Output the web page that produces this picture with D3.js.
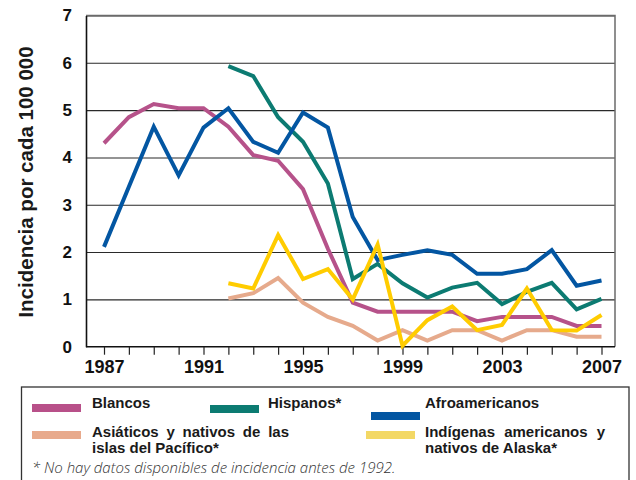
<!DOCTYPE html>
<html>
<head>
<meta charset="utf-8">
<script src="https://cdn.jsdelivr.net/npm/d3@7"></script>
<style>
  body { margin: 0; background: #fff; }
  svg { display: block; font-family: "Liberation Sans", Arial, sans-serif; }
</style>
</head>
<body>
<div id="chart"></div>
<script>
// Data.
var years = [1987, 1988, 1989, 1990, 1991, 1992, 1993, 1994, 1995, 1996, 1997,
             1998, 1999, 2000, 2001, 2002, 2003, 2004, 2005, 2006, 2007];
var labelYears = [1987, 1991, 1995, 1999, 2003, 2007];
var yTicks = [0, 1, 2, 3, 4, 5, 6, 7];

var blancos = [4.30, 4.85, 5.13, 5.04, 5.04, 4.65, 4.05, 3.93, 3.33, 2.07, 0.93,
               0.74, 0.74, 0.74, 0.74, 0.54, 0.63, 0.63, 0.63, 0.44, 0.44];
var hispanos = [null, null, null, null, null, 5.93, 5.72, 4.85, 4.33, 3.45, 1.43,
                1.75, 1.34, 1.04, 1.25, 1.35, 0.90, 1.16, 1.35, 0.79, 1.01];
var afroamericanos = [2.11, 3.38, 4.65, 3.62, 4.63, 5.04, 4.33, 4.10, 4.95, 4.63, 2.74,
                      1.83, 1.94, 2.04, 1.94, 1.54, 1.54, 1.64, 2.04, 1.29, 1.40];
var asiaticos = [null, null, null, null, null, 1.02, 1.13, 1.45, 0.93, 0.63, 0.44,
                 0.13, 0.35, 0.13, 0.35, 0.35, 0.13, 0.35, 0.35, 0.21, 0.21];
var indigenas = [null, null, null, null, null, 1.34, 1.23, 2.36, 1.43, 1.64, 1.00,
                 2.16, 0.02, 0.56, 0.85, 0.35, 0.46, 1.23, 0.35, 0.34, 0.67];

// drawing order: last one ends on top
var series = [
    { name: "asiaticos", values: asiaticos, color: "#e6aa8c" },
    { name: "blancos", values: blancos, color: "#b6528a" },
    { name: "hispanos", values: hispanos, color: "#0c7b72" },
    { name: "afroamericanos", values: afroamericanos, color: "#0356a2" },
    { name: "indigenas", values: indigenas, color: "#ffcc00" }
];

var width = 636, height = 480;
var plot = { left: 86, right: 615, top: 15.5, bottom: 346.7 };

var xScale = d3.scaleLinear()
    .domain([1987, 2007])
    .range([104, 601.5]);

var yScale = d3.scaleLinear()
    .domain([0, 7])
    .range([plot.bottom, plot.top]);

var svg = d3.select("#chart")
    .append("svg")
    .attr("width", width)
    .attr("height", height);

// Gridlines.
svg.append("g")
    .attr("transform", "translate(" + plot.left + ",0)")
    .call(d3.axisRight(yScale).tickValues(yTicks.slice(1)).tickSize(plot.right - plot.left).tickFormat(""))
    .call(g => g.select(".domain").remove())
    .call(g => g.selectAll("line").attr("stroke", "#2a2a2a").attr("stroke-width", 1.1));

// Frame: top and right in grey.
svg.append("path")
    .attr("d", "M" + plot.left + "," + plot.top + "H" + plot.right + "V" + plot.bottom)
    .attr("fill", "none")
    .attr("stroke", "#6b6b6b")
    .attr("stroke-width", 1.5);

// Y axis labels.
svg.append("g")
    .attr("transform", "translate(" + plot.left + ",0)")
    .call(d3.axisLeft(yScale).tickValues(yTicks).tickSize(0).tickPadding(14).tickFormat(d3.format("d")))
    .call(g => g.select(".domain").attr("stroke", "#111").attr("stroke-width", 1.6))
    .call(g => g.selectAll("text")
        .attr("font-family", "Liberation Sans, Arial, sans-serif")
        .attr("font-size", 17)
        .attr("font-weight", "bold")
        .attr("fill", "#111"));

// X axis with a tick for every year, labels every four years.
svg.append("g")
    .attr("transform", "translate(0," + plot.bottom + ")")
    .call(d3.axisBottom(xScale)
        .tickValues(years)
        .tickSize(8)
        .tickPadding(6)
        .tickFormat(d => labelYears.indexOf(d) >= 0 ? d : ""))
    .call(g => g.select(".domain").attr("d", "M" + plot.left + ",0H" + plot.right)
        .attr("stroke", "#111").attr("stroke-width", 1.6))
    .call(g => g.selectAll("line").attr("stroke", "#222").attr("stroke-width", 1.2))
    .call(g => g.selectAll("text")
        .attr("font-family", "Liberation Sans, Arial, sans-serif")
        .attr("font-size", 18)
        .attr("font-weight", "bold")
        .attr("fill", "#111"));

// Y axis title.
svg.append("text")
    .attr("transform", "translate(33,182) rotate(-90)")
    .attr("text-anchor", "middle")
    .attr("font-size", 20.5)
    .attr("font-weight", "bold")
    .attr("fill", "#1a1a1a")
    .text("Incidencia por cada 100 000");

// Lines.
var line = d3.line()
    .defined(d => d[1] != null)
    .x(d => xScale(d[0]))
    .y(d => yScale(d[1]));

svg.append("g")
    .selectAll("path")
    .data(series)
    .join("path")
    .attr("d", s => line(years.map((yr, i) => [yr, s.values[i]])))
    .attr("fill", "none")
    .attr("stroke", s => s.color)
    .attr("stroke-width", 4)
    .attr("stroke-linejoin", "miter");

// Legend box.
var legend = svg.append("g");
legend.append("rect")
    .attr("x", 21.5)
    .attr("y", 387)
    .attr("width", 607.5)
    .attr("height", 110)
    .attr("fill", "none")
    .attr("stroke", "#333")
    .attr("stroke-width", 1.3);

var legendItems = [
    { color: "#b85089", sx: 32, sy: 404, lx: 92, ly: 408, lines: ["Blancos"], ws: 0 },
    { color: "#0c7b72", sx: 210, sy: 405, lx: 268, ly: 408, lines: ["Hispanos*"], ws: 0 },
    { color: "#0356a2", sx: 371, sy: 412, lx: 425, ly: 408, lines: ["Afroamericanos"], ws: 0 },
    { color: "#e8aa8c", sx: 32, sy: 431, lx: 92, ly: 437, lines: ["Asiáticos y nativos de las", "islas del Pacífico*"], ws: 3.6 },
    { color: "#f3d865", sx: 366, sy: 431, lx: 425, ly: 437, lines: ["Indígenas americanos y", "nativos de Alaska*"], ws: 5 }
];

legendItems.forEach(function (it) {
    legend.append("rect")
        .attr("x", it.sx)
        .attr("y", it.sy)
        .attr("width", 49)
        .attr("height", 8)
        .attr("fill", it.color);
    it.lines.forEach(function (t, k) {
        legend.append("text")
            .attr("x", it.lx)
            .attr("y", it.ly + k * 15.5)
            .attr("font-size", 15)
            .attr("font-weight", "bold")
            .attr("fill", "#1a1a1a")
            .attr("word-spacing", k == 0 ? it.ws : 0)
            .text(t);
    });
});

// Footnote.
legend.append("text")
    .attr("x", 32)
    .attr("y", 473)
    .attr("font-family", "Open Sans, sans-serif")
    .attr("font-style", "italic")
    .attr("font-weight", 300)
    .attr("font-size", 15)
    .attr("fill", "#333")
    .text("* No hay datos disponibles de incidencia antes de 1992.");
</script>
</body>
</html>
